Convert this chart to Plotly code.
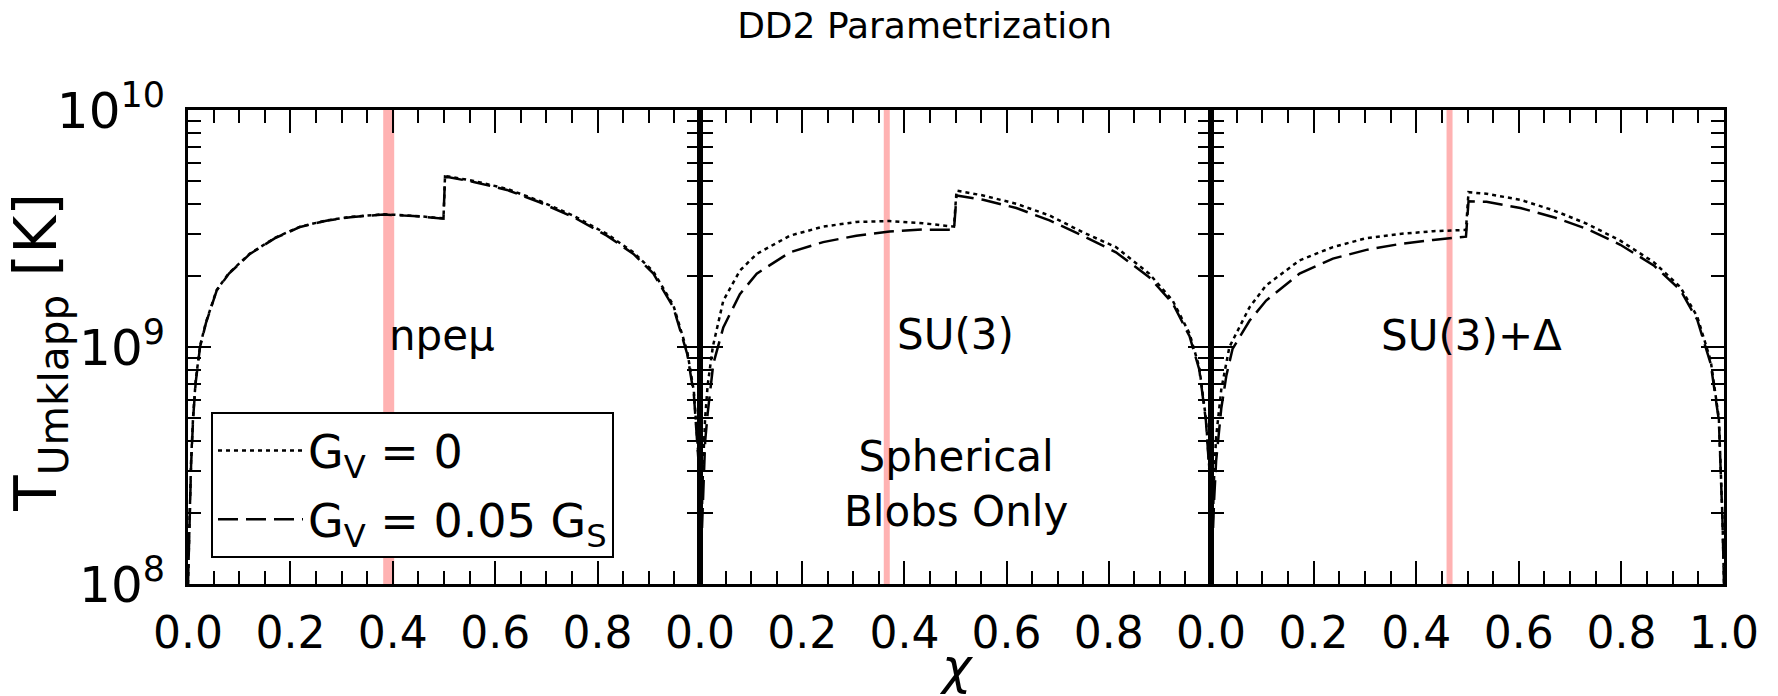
import plotly.graph_objects as go

# ---------------- data ----------------
panel_names = ["npeμ", "SU(3)", "SU(3)+Δ"]
series_names = ["G<sub>V</sub> = 0", "G<sub>V</sub> = 0.05 G<sub>S</sub>"]

chi_npe = [0.0, 0.003, 0.006, 0.01, 0.015, 0.0235, 0.035, 0.056, 0.08, 0.121, 0.17, 0.219,
           0.27, 0.317, 0.382, 0.44, 0.499, 0.502, 0.558, 0.623, 0.687, 0.753, 0.818, 0.87,
           0.909, 0.948, 0.975, 0.988, 0.998, 1.0]
T_npe_gv0 = [1.0e8, 2.1e8, 3.3e8, 5.1e8, 7.2e8, 1.01e9, 1.27e9, 1.74e9, 2.05e9, 2.48e9, 2.89e9,
             3.22e9, 3.42e9, 3.54e9, 3.63e9, 3.58e9, 3.49e9, 5.27e9, 5.02e9, 4.65e9, 4.13e9,
             3.58e9, 3.0e9, 2.51e9, 2.08e9, 1.5e9, 9.6e8, 6.5e8, 3.2e8, 1.0e8]
T_npe_gv005 = [1.0e8, 2.0e8, 3.16e8, 5.0e8, 7.08e8, 1.0e9, 1.26e9, 1.73e9, 2.04e9, 2.47e9, 2.88e9,
               3.21e9, 3.41e9, 3.53e9, 3.62e9, 3.57e9, 3.48e9, 5.24e9, 4.97e9, 4.60e9, 4.08e9,
               3.53e9, 2.95e9, 2.47e9, 2.04e9, 1.47e9, 9.35e8, 6.31e8, 3.09e8, 1.0e8]

chi_su3_gv0 = [0.0, 0.003, 0.006, 0.01, 0.015, 0.025, 0.0456, 0.078, 0.111, 0.176, 0.241, 0.306,
               0.371, 0.436, 0.497, 0.502, 0.554, 0.619, 0.684, 0.749, 0.814, 0.879, 0.925,
               0.958, 0.977, 0.99, 0.998, 1.0]
T_su3_gv0 = [1.0e8, 2.0e8, 3.16e8, 5.0e8, 6.9e8, 1.0e9, 1.57e9, 2.10e9, 2.47e9, 2.95e9, 3.22e9,
             3.37e9, 3.40e9, 3.33e9, 3.22e9, 4.57e9, 4.36e9, 4.02e9, 3.59e9, 3.05e9, 2.64e9,
             2.04e9, 1.57e9, 1.14e9, 8.22e8, 5.0e8, 2.82e8, 1.0e8]
chi_su3_gv005 = [0.0, 0.003, 0.006, 0.01, 0.015, 0.02, 0.026, 0.0456, 0.078, 0.111, 0.176, 0.241,
                 0.306, 0.371, 0.436, 0.497, 0.502, 0.554, 0.619, 0.684, 0.749, 0.814, 0.879,
                 0.925, 0.958, 0.977, 0.99, 0.998, 1.0]
T_su3_gv005 = [1.0e8, 1.58e8, 2.51e8, 3.98e8, 5.25e8, 6.61e8, 8.49e8, 1.21e9, 1.67e9, 2.04e9,
               2.51e9, 2.77e9, 2.95e9, 3.07e9, 3.13e9, 3.12e9, 4.36e9, 4.18e9, 3.86e9, 3.42e9,
               2.95e9, 2.51e9, 1.97e9, 1.53e9, 1.11e9, 8.04e8, 4.9e8, 2.75e8, 1.0e8]

chi_su3d_gv0 = [0.0, 0.003, 0.006, 0.01, 0.02, 0.0358, 0.075, 0.1075, 0.1726, 0.2377, 0.303,
                0.368, 0.433, 0.497, 0.502, 0.537, 0.603, 0.668, 0.733, 0.798, 0.863, 0.915,
                0.948, 0.974, 0.99, 0.997, 1.0]
T_su3d_gv0 = [1.0e8, 1.78e8, 2.82e8, 4.17e8, 6.61e8, 1.0e9, 1.47e9, 1.82e9, 2.32e9, 2.64e9,
              2.88e9, 3.0e9, 3.08e9, 3.12e9, 4.50e9, 4.43e9, 4.18e9, 3.77e9, 3.31e9, 2.81e9,
              2.28e9, 1.79e9, 1.34e9, 8.77e8, 5.0e8, 1.91e8, 1.0e8]
chi_su3d_gv005 = [0.0, 0.003, 0.006, 0.01, 0.02, 0.03, 0.042, 0.075, 0.1075, 0.1726, 0.2377,
                  0.303, 0.368, 0.433, 0.497, 0.502, 0.537, 0.603, 0.668, 0.733, 0.798, 0.863,
                  0.915, 0.948, 0.974, 0.99, 0.997, 1.0]
T_su3d_gv005 = [1.0e8, 1.58e8, 2.24e8, 3.31e8, 5.5e8, 7.59e8, 9.82e8, 1.29e9, 1.57e9, 2.04e9,
                2.36e9, 2.57e9, 2.72e9, 2.83e9, 2.92e9, 4.12e9, 4.10e9, 3.86e9, 3.53e9, 3.15e9,
                2.70e9, 2.21e9, 1.74e9, 1.30e9, 8.51e8, 4.9e8, 1.86e8, 1.0e8]

band_chi = [0.392, 0.3655, 0.465]

x_tickvals_inner = [0.0, 0.2, 0.4, 0.6, 0.8]
x_ticktext_inner = ["0.0", "0.2", "0.4", "0.6", "0.8"]
x_tickvals_last = [0.0, 0.2, 0.4, 0.6, 0.8, 1.0]
x_ticktext_last = ["0.0", "0.2", "0.4", "0.6", "0.8", "1.0"]
y_tickvals = [1e8, 1e9, 1e10]
y_ticktext = ["10<sup>8</sup>", "10<sup>9</sup>", "10<sup>10</sup>"]
y_minor = [2e8, 3e8, 4e8, 5e8, 6e8, 7e8, 8e8, 9e8, 2e9, 3e9, 4e9, 5e9, 6e9, 7e9, 8e9, 9e9]

# ---------------- figure ----------------
FONT = "DejaVu Sans"
W, H = 1778, 696
ML, MR, MT, MB = 188, 54, 110, 112
pw = W - ML - MR
edges = [0, 512, 1023, pw]
domains = [[edges[i] / pw, edges[i + 1] / pw] for i in range(3)]

series = [
    [(chi_npe, T_npe_gv0), (chi_npe, T_npe_gv005)],
    [(chi_su3_gv0, T_su3_gv0), (chi_su3_gv005, T_su3_gv005)],
    [(chi_su3d_gv0, T_su3d_gv0), (chi_su3d_gv005, T_su3d_gv005)],
]
dashes = ["4px,4px", "20px,8px"]

fig = go.Figure()
for p in range(3):
    xa = "x" if p == 0 else f"x{p+1}"
    ya = "y" if p == 0 else f"y{p+1}"
    for s in range(2):
        cx, ty = series[p][s]
        fig.add_trace(go.Scatter(
            x=cx, y=ty, mode="lines", xaxis=xa, yaxis=ya,
            name=series_names[s], legendgroup=f"g{s}", showlegend=(p == 0),
            line=dict(color="black", width=2.5, dash=dashes[s]),
        ))
    fig.add_shape(type="line", xref=xa, yref=f"{ya} domain",
                  x0=band_chi[p], x1=band_chi[p], y0=0, y1=1,
                  line=dict(color="rgba(255,0,0,0.3)", width=11 if p == 0 else 6),
                  layer="below")

axis_common = dict(showline=True, linewidth=3, linecolor="black", mirror="ticks",
                   ticks="inside", tickcolor="black", showgrid=False, zeroline=False)
layout = {}
for p in range(3):
    xk = "xaxis" if p == 0 else f"xaxis{p+1}"
    yk = "yaxis" if p == 0 else f"yaxis{p+1}"
    ya = "y" if p == 0 else f"y{p+1}"
    xa = "x" if p == 0 else f"x{p+1}"
    layout[xk] = dict(axis_common, domain=domains[p], anchor=ya, range=[0, 1],
                      tickmode="array",
                      tickvals=x_tickvals_last if p == 2 else x_tickvals_inner,
                      ticktext=x_ticktext_last if p == 2 else x_ticktext_inner,
                      ticklen=23, tickwidth=1.5,
                      tickfont=dict(family=FONT, size=44, color="black"),
                      ticklabelstandoff=8,
                      minor=dict(ticks="inside", ticklen=13, tickwidth=1.5, dtick=0.05,
                                 tick0=0, tickcolor="black", showgrid=False))
    layout[yk] = dict(axis_common, domain=[0, 1], anchor=xa, type="log", range=[8, 10],
                      tickmode="array", tickvals=y_tickvals, ticktext=y_ticktext,
                      ticklen=23, tickwidth=1.5, showticklabels=(p == 0),
                      tickfont=dict(family=FONT, size=50, color="black"),
                      ticklabelstandoff=10,
                      minor=dict(ticks="inside", ticklen=13, tickwidth=1.5,
                                 tickmode="array", tickvals=y_minor, tickcolor="black",
                                 showgrid=False))

annotations = [
    dict(text=panel_names[0], x=0.496, y=9.049, xref="x", yref="y", showarrow=False,
         font=dict(family=FONT, size=42, color="black"), xanchor="center", yanchor="middle"),
    dict(text=panel_names[1], x=0.50, y=9.053, xref="x2", yref="y2", showarrow=False,
         font=dict(family=FONT, size=42, color="black"), xanchor="center", yanchor="middle"),
    dict(text=panel_names[2], x=0.507, y=9.05, xref="x3", yref="y3", showarrow=False,
         font=dict(family=FONT, size=42, color="black"), xanchor="center", yanchor="middle"),
    dict(text="Spherical<br>Blobs Only", x=0.50, y=8.422, xref="x2", yref="y2",
         showarrow=False, font=dict(family=FONT, size=42, color="black"),
         xanchor="center", yanchor="middle"),
    dict(text="<i>χ</i>", x=0.5, y=-0.175, xref="paper", yref="paper", showarrow=False,
         font=dict(family=FONT, size=50, color="black"), xanchor="center", yanchor="middle"),
    dict(text="T<sub>Umklapp</sub> [K]", x=-0.0964, y=0.49, xref="paper", yref="paper",
         showarrow=False, textangle=-90, font=dict(family=FONT, size=58, color="black"),
         xanchor="center", yanchor="middle"),
]

fig.update_layout(
    width=W, height=H,
    margin=dict(l=ML, r=MR, t=MT, b=MB),
    paper_bgcolor="white", plot_bgcolor="white",
    title=dict(text="DD2 Parametrization", x=0.52, y=1 - 25 / H, xref="container",
               yref="container", xanchor="center", yanchor="middle",
               font=dict(family=FONT, size=36, color="black")),
    showlegend=True,
    legend=dict(x=(211 - ML) / pw, y=(H - MB - 412) / (H - MT - MB), xanchor="left",
                yanchor="top", bordercolor="black", borderwidth=2, bgcolor="white",
                font=dict(family=FONT, size=46, color="black"),
                traceorder="grouped", tracegroupgap=6, itemwidth=85),
    annotations=annotations,
    **layout,
)

fig.write_html("out.html")
